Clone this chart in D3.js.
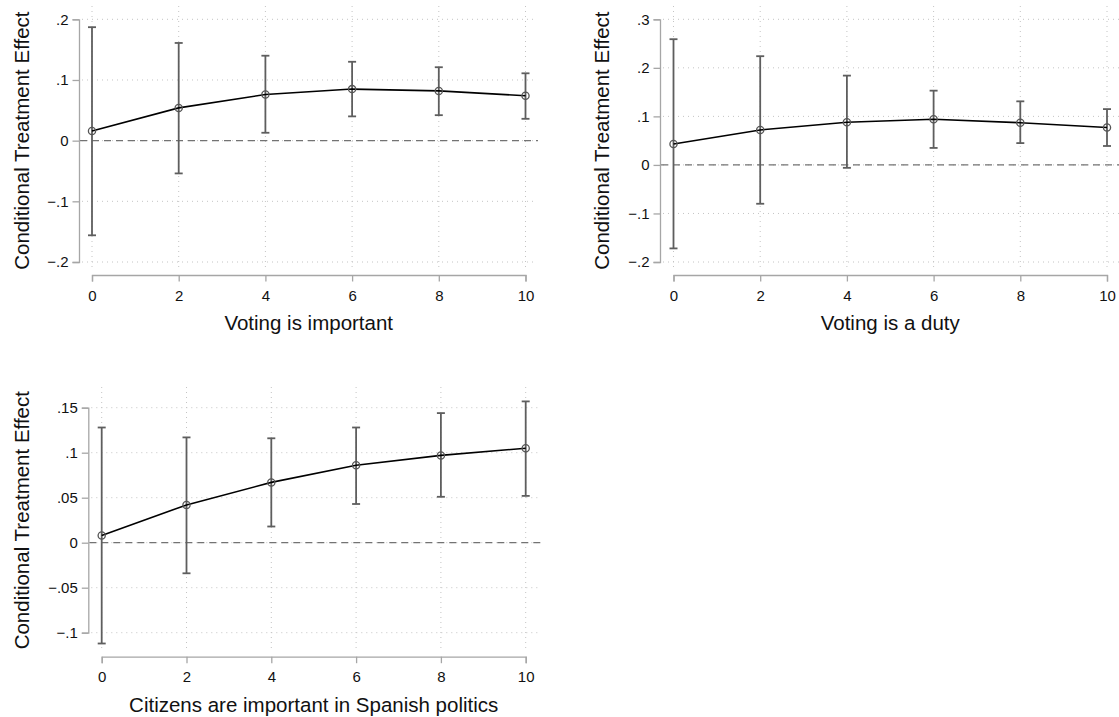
<!DOCTYPE html>
<html>
<head>
<meta charset="utf-8">
<script src="https://cdn.jsdelivr.net/npm/d3@7"></script>
<style>
  html, body { margin: 0; padding: 0; background: #fff; }
  svg { display: block; font-family: "Liberation Sans", Arial, Helvetica, sans-serif; }
</style>
</head>
<body>
<div id="chart"></div>
<script>
//Data
const xValues = [0, 2, 4, 6, 8, 10];
const xTickLabels = ["0", "2", "4", "6", "8", "10"];
const yTitle = "Conditional Treatment Effect";

//Panel 1: Voting is important
const importantEst = [0.016, 0.054, 0.076, 0.085, 0.082, 0.074];
const importantLo = [-0.156, -0.054, 0.013, 0.040, 0.042, 0.036];
const importantHi = [0.187, 0.161, 0.140, 0.130, 0.121, 0.111];
const importantTicks = [-0.2, -0.1, 0, 0.1, 0.2];
const importantTickLabels = ["\u2212.2", "\u2212.1", "0", ".1", ".2"];

//Panel 2: Voting is a duty
const dutyEst = [0.043, 0.072, 0.088, 0.094, 0.087, 0.077];
const dutyLo = [-0.172, -0.080, -0.006, 0.035, 0.045, 0.039];
const dutyHi = [0.259, 0.224, 0.184, 0.153, 0.131, 0.115];
const dutyTicks = [-0.2, -0.1, 0, 0.1, 0.2, 0.3];
const dutyTickLabels = ["\u2212.2", "\u2212.1", "0", ".1", ".2", ".3"];

//Panel 3: Citizens are important in Spanish politics
const citizensEst = [0.008, 0.042, 0.067, 0.086, 0.097, 0.105];
const citizensLo = [-0.112, -0.034, 0.018, 0.043, 0.051, 0.052];
const citizensHi = [0.128, 0.117, 0.116, 0.128, 0.144, 0.157];
const citizensTicks = [-0.1, -0.05, 0, 0.05, 0.1, 0.15];
const citizensTickLabels = ["\u2212.1", "\u2212.05", "0", ".05", ".1", ".15"];

//Chart constants
const width = 1119;
const height = 717;
const fontFamily = "'Liberation Sans', Arial, Helvetica, sans-serif";
const tickFont = 15;
const titleFont = 20.5;
const axisColor = "#a6a6a6";
const gridColor = "#c4c4c4";

const svg = d3
  .select("#chart")
  .append("svg")
  .attr("width", width)
  .attr("height", height);

//Panel layout (pixel boxes of each sub-graph)
const panels = [
  {
    title: "Voting is important",
    est: importantEst, lo: importantLo, hi: importantHi,
    ticks: importantTicks, tickLabels: importantTickLabels,
    axisX: 79, x0: 92, x1: 525.5, yBottom: 262, yTop: 19.3, axisY: 275,
    plotTop: 6, plotBottom: 268, plotRight: 535, labelX: 28.5,
  },
  {
    title: "Voting is a duty",
    est: dutyEst, lo: dutyLo, hi: dutyHi,
    ticks: dutyTicks, tickLabels: dutyTickLabels,
    axisX: 660, x0: 673.5, x1: 1107, yBottom: 262, yTop: 19.3, axisY: 275,
    plotTop: 6, plotBottom: 268, plotRight: 1119, labelX: 608.5,
  },
  {
    title: "Citizens are important in Spanish politics",
    est: citizensEst, lo: citizensLo, hi: citizensHi,
    ticks: citizensTicks, tickLabels: citizensTickLabels,
    axisX: 88.3, x0: 101.7, x1: 525.7, yBottom: 632.7, yTop: 407.7, axisY: 656.7,
    plotTop: 387, plotBottom: 650, plotRight: 538, labelX: 28.5,
  },
];

//Function to draw one panel
function drawPanel(p) {
  const g = svg.append("g");
  const ticks = p.ticks;

  const x = d3.scaleLinear().domain([0, 10]).range([p.x0, p.x1]);
  const y = d3
    .scaleLinear()
    .domain([ticks[0], ticks[ticks.length - 1]])
    .range([p.yBottom, p.yTop]);

  const rows = xValues.map((v, i) => ({ x: v, est: p.est[i], lo: p.lo[i], hi: p.hi[i] }));

  //Horizontal grid lines
  g.selectAll(".hgrid")
    .data(ticks)
    .enter()
    .append("line")
    .attr("x1", p.axisX + 3)
    .attr("x2", p.plotRight)
    .attr("y1", (d) => y(d))
    .attr("y2", (d) => y(d))
    .attr("stroke", gridColor)
    .attr("stroke-width", 1)
    .attr("stroke-dasharray", "1,4");

  //Vertical grid lines
  g.selectAll(".vgrid")
    .data(xValues)
    .enter()
    .append("line")
    .attr("x1", (d) => x(d))
    .attr("x2", (d) => x(d))
    .attr("y1", p.plotTop)
    .attr("y2", p.plotBottom)
    .attr("stroke", gridColor)
    .attr("stroke-width", 1)
    .attr("stroke-dasharray", "1,4");

  //Zero reference line
  g.append("line")
    .attr("x1", p.axisX + 1)
    .attr("x2", p.plotRight + 3)
    .attr("y1", y(0))
    .attr("y2", y(0))
    .attr("stroke", "#737373")
    .attr("stroke-width", 1.2)
    .attr("stroke-dasharray", "7,5");

  //Y axis
  const yAxis = d3
    .axisLeft(y)
    .tickValues(ticks)
    .tickFormat((d, i) => p.tickLabels[i])
    .tickSizeOuter(0)
    .tickSize(6.5)
    .tickPadding(4);
  const yg = g.append("g").attr("transform", `translate(${p.axisX},0)`).call(yAxis);

  //X axis
  const xAxis = d3
    .axisBottom(x)
    .tickValues(xValues)
    .tickFormat((d, i) => xTickLabels[i])
    .tickSizeOuter(0)
    .tickSize(6.5)
    .tickPadding(8.5);
  const xg = g.append("g").attr("transform", `translate(0,${p.axisY})`).call(xAxis);

  [yg, xg].forEach((ax) => {
    ax.attr("font-size", tickFont).attr("font-family", fontFamily);
    ax.select(".domain").attr("stroke", axisColor).attr("stroke-width", 1.3);
    ax.selectAll(".tick line").attr("stroke", axisColor).attr("stroke-width", 1.3);
    ax.selectAll(".tick text").attr("fill", "#111");
  });

  //Axis titles
  g.append("text")
    .attr("transform", `translate(${p.labelX},${(p.yTop + p.yBottom) / 2}) rotate(-90)`)
    .attr("text-anchor", "middle")
    .attr("font-size", titleFont)
    .attr("font-family", fontFamily)
    .attr("fill", "#111")
    .text(yTitle);

  g.append("text")
    .attr("x", (p.x0 + p.x1) / 2)
    .attr("y", p.axisY + 55)
    .attr("text-anchor", "middle")
    .attr("font-size", titleFont)
    .attr("font-family", fontFamily)
    .attr("fill", "#111")
    .text(p.title);

  //Error bars
  const barColor = "#5e5e5e";
  g.selectAll(".bar")
    .data(rows)
    .enter()
    .append("line")
    .attr("x1", (d) => x(d.x))
    .attr("x2", (d) => x(d.x))
    .attr("y1", (d) => y(d.lo))
    .attr("y2", (d) => y(d.hi))
    .attr("stroke", barColor)
    .attr("stroke-width", 1.8);

  ["lo", "hi"].forEach((k) => {
    g.selectAll(".cap-" + k)
      .data(rows)
      .enter()
      .append("line")
      .attr("x1", (d) => x(d.x) - 4)
      .attr("x2", (d) => x(d.x) + 4)
      .attr("y1", (d) => y(d[k]))
      .attr("y2", (d) => y(d[k]))
      .attr("stroke", barColor)
      .attr("stroke-width", 1.8);
  });

  //Estimate line
  const line = d3
    .line()
    .x((d) => x(d.x))
    .y((d) => y(d.est));
  g.append("path")
    .datum(rows)
    .attr("d", line)
    .attr("fill", "none")
    .attr("stroke", "#000")
    .attr("stroke-width", 1.6);

  //Hollow markers
  g.selectAll(".marker")
    .data(rows)
    .enter()
    .append("circle")
    .attr("cx", (d) => x(d.x))
    .attr("cy", (d) => y(d.est))
    .attr("r", 3.6)
    .attr("fill", "none")
    .attr("stroke", "#555")
    .attr("stroke-width", 1.3);
}

panels.forEach(drawPanel);
</script>
</body>
</html>
